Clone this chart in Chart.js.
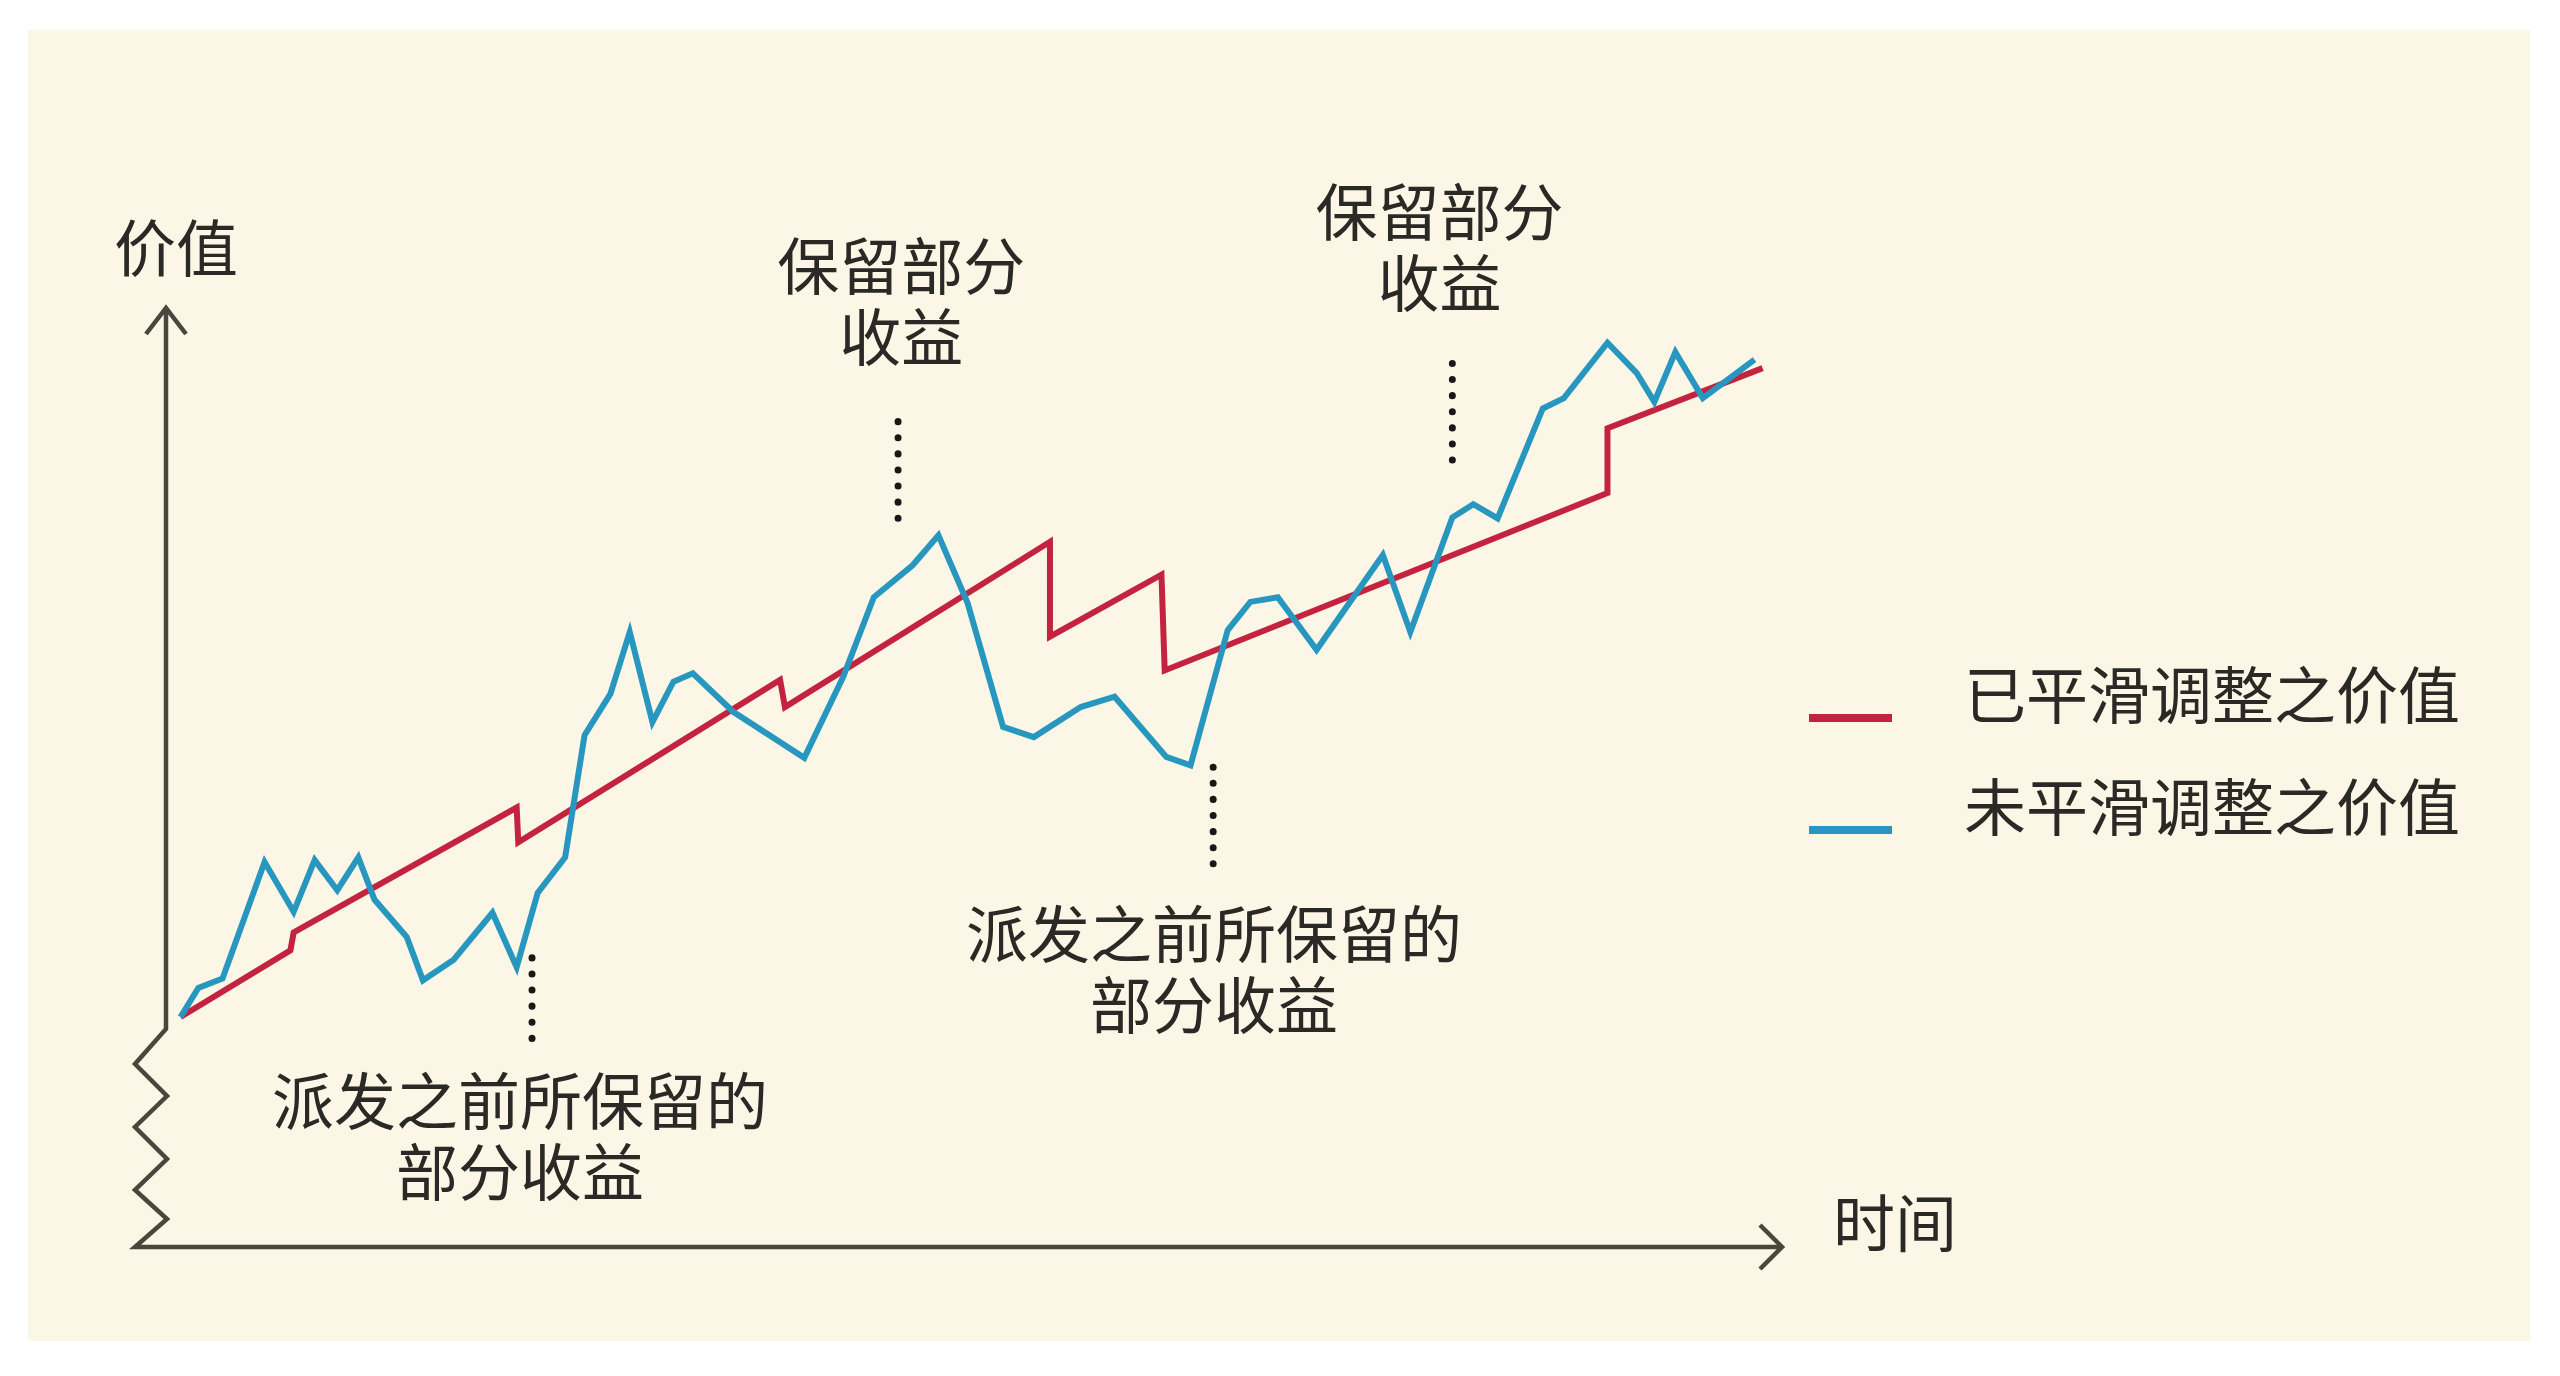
<!DOCTYPE html>
<html>
<head>
<meta charset="utf-8">
<script src="https://cdn.jsdelivr.net/npm/chart.js@4.4.1/dist/chart.umd.min.js"></script>
<style>
  html, body { margin: 0; padding: 0; background: #ffffff; }
  #chart { display: block; }
</style>
</head>
<body>
<canvas id="chart" width="2560" height="1376"></canvas>
<script>
// smoothed value (red)
const smoothT = [0.9, 7.7, 7.9, 21.7, 21.8, 38.0, 38.3, 54.7, 54.7, 61.6, 61.8, 89.2, 89.2, 98.8];
const smoothV = [24.5, 31.6, 33.5, 46.8, 43.1, 60.4, 57.5, 75.1, 65.0, 71.6, 61.4, 80.3, 87.2, 93.6];

// unsmoothed value (blue)
const rawT = [0.9, 2.0, 3.5, 6.1, 7.9, 9.2, 10.6, 11.9, 12.9, 14.9, 15.9, 17.8, 20.2, 21.7, 23.0, 24.7,
  25.9, 27.5, 28.7, 30.1, 31.4, 32.6, 35.1, 39.5, 41.9, 43.8, 46.2, 47.8, 49.6, 51.8, 53.7, 56.6,
  58.7, 61.9, 63.4, 65.7, 67.1, 68.8, 71.2, 75.3, 77.0, 79.6, 80.9, 82.4, 85.2, 86.5, 89.2, 91.0,
  92.1, 93.4, 95.1, 98.3];
const rawV = [24.5, 27.6, 28.6, 41.0, 35.7, 41.2, 38.0, 41.5, 37.0, 33.0, 28.4, 30.6, 35.6, 29.8, 37.7, 41.5,
  54.5, 58.9, 65.5, 55.9, 60.2, 61.1, 57.0, 52.1, 60.7, 69.2, 72.6, 75.8, 68.6, 55.4, 54.3, 57.5,
  58.6, 52.2, 51.3, 65.7, 68.7, 69.2, 63.6, 73.7, 65.5, 77.7, 79.1, 77.6, 89.3, 90.4, 96.3, 93.1,
  90.0, 95.3, 90.4, 94.5];

const seriesNames = ['已平滑调整之价值', '未平滑调整之价值'];
const axisTitles = ['价值', '时间'];

// callouts: text lines, text anchor (t, v) and dotted leader (t, v from, v to)
const noteLines = [
  ['保留部分', '收益'],
  ['保留部分', '收益'],
  ['派发之前所保留的', '部分收益'],
  ['派发之前所保留的', '部分收益']
];
const noteT = [45.5, 78.8, 21.9, 64.85];
const noteV = [104.4, 110.2, 15.5, 33.3];
const leaderT = [45.3, 79.6, 22.65, 64.8];
const leaderTop = [87.9, 94.1, 30.8, 51.1];
const leaderBottom = [76.0, 82.4, 20.8, 40.5];

const RED = '#c42340';
const BLUE = '#2797bf';
const INK = '#2b2926';
const AXIS = '#4a453d';
const CREAM = '#fcf6e6';
const FONT = '62px "Noto Sans CJK SC", "Noto Sans", sans-serif';

const toPoints = (ts, vs) => ts.map((t, i) => ({ x: t, y: vs[i] }));

const backdrop = {
  id: 'backdrop',
  beforeDraw(chart) {
    const ctx = chart.ctx;
    ctx.save();
    ctx.fillStyle = '#ffffff';
    ctx.fillRect(0, 0, chart.width, chart.height);
    ctx.fillStyle = CREAM;
    ctx.fillRect(28, 30, 2502, 1311);
    ctx.restore();
  }
};

const axesAndNotes = {
  id: 'axesAndNotes',
  beforeDatasetsDraw(chart) {
    const ctx = chart.ctx;
    const { left, right, top, bottom } = chart.chartArea;
    ctx.save();
    ctx.strokeStyle = AXIS;
    ctx.lineWidth = 4.5;
    ctx.lineJoin = 'miter';
    ctx.lineCap = 'butt';

    // value axis with broken base
    const zx = left - 31;
    ctx.beginPath();
    ctx.moveTo(left, top);
    ctx.lineTo(left, bottom - 218);
    ctx.lineTo(zx, bottom - 183);
    ctx.lineTo(left + 1, bottom - 151);
    ctx.lineTo(zx, bottom - 120);
    ctx.lineTo(left + 1, bottom - 88);
    ctx.lineTo(zx, bottom - 57);
    ctx.lineTo(left + 1, bottom - 28);
    ctx.lineTo(zx, bottom);
    ctx.lineTo(right, bottom);
    ctx.stroke();

    // arrow heads
    ctx.beginPath();
    ctx.moveTo(left - 20, top + 26);
    ctx.lineTo(left, top);
    ctx.lineTo(left + 20, top + 26);
    ctx.moveTo(right - 22, bottom - 22);
    ctx.lineTo(right, bottom);
    ctx.lineTo(right - 22, bottom + 22);
    ctx.stroke();

    // dotted leaders
    const xs = chart.scales.x, ys = chart.scales.y;
    ctx.strokeStyle = '#1a1816';
    ctx.lineWidth = 7;
    ctx.lineCap = 'round';
    ctx.setLineDash([0.1, 16]);
    leaderT.forEach((t, i) => {
      const px = xs.getPixelForValue(t);
      ctx.beginPath();
      ctx.moveTo(px, ys.getPixelForValue(leaderTop[i]));
      ctx.lineTo(px, ys.getPixelForValue(leaderBottom[i]));
      ctx.stroke();
    });
    ctx.setLineDash([]);

    // texts
    ctx.fillStyle = INK;
    ctx.font = FONT;
    ctx.textAlign = 'center';
    ctx.textBaseline = 'middle';
    noteLines.forEach((lines, i) => {
      const px = xs.getPixelForValue(noteT[i]);
      const py = ys.getPixelForValue(noteV[i]);
      lines.forEach((s, k) => ctx.fillText(s, px, py + k * 71));
    });
    ctx.fillText(axisTitles[0], left + 10, top - 60);
    ctx.textAlign = 'left';
    ctx.fillText(axisTitles[1], right + 51, bottom - 24);

    // legend
    const colors = [RED, BLUE];
    seriesNames.forEach((name, i) => {
      const ly = 718 + i * 112;
      ctx.strokeStyle = colors[i];
      ctx.lineWidth = 8;
      ctx.lineCap = 'butt';
      ctx.beginPath();
      ctx.moveTo(1809, ly);
      ctx.lineTo(1892, ly);
      ctx.stroke();
      ctx.fillText(name, 1964, ly - 23);
    });
    ctx.restore();
  }
};

new Chart(document.getElementById('chart'), {
  type: 'line',
  data: {
    datasets: [
      {
        label: seriesNames[0],
        data: toPoints(smoothT, smoothV),
        borderColor: RED,
        borderWidth: 6,
        pointRadius: 0,
        tension: 0,
        borderJoinStyle: 'miter',
        order: 1
      },
      {
        label: seriesNames[1],
        data: toPoints(rawT, rawV),
        borderColor: BLUE,
        borderWidth: 6,
        pointRadius: 0,
        tension: 0,
        borderJoinStyle: 'miter',
        order: 0
      }
    ]
  },
  options: {
    responsive: false,
    devicePixelRatio: 1,
    animation: false,
    layout: { padding: { left: 166, right: 778, top: 308, bottom: 129 } },
    plugins: { legend: { display: false }, tooltip: { enabled: false } },
    scales: {
      x: { type: 'linear', min: 0, max: 100, display: false },
      y: { min: 0, max: 100, display: false }
    }
  },
  plugins: [backdrop, axesAndNotes]
});
</script>
</body>
</html>
